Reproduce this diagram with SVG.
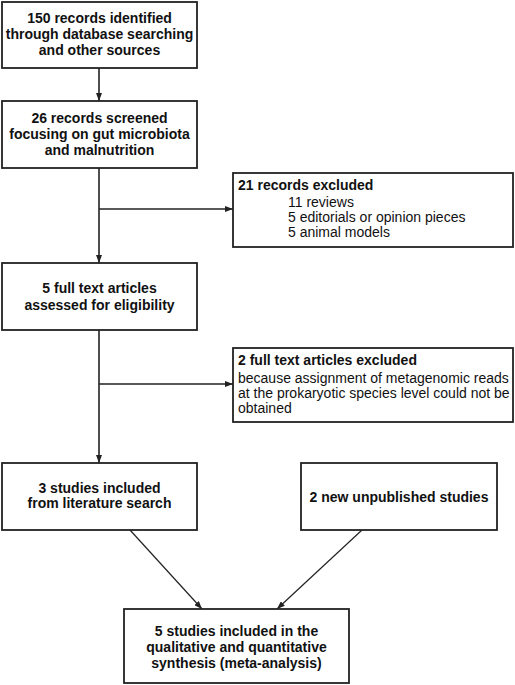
<svg xmlns="http://www.w3.org/2000/svg" width="515" height="685" viewBox="0 0 515 685">
<style>
.box{fill:#fff;stroke:#222;stroke-width:1.8}
.t{font-family:"Liberation Sans",Arial,sans-serif;font-size:14px;fill:#111}
.b{font-weight:bold}
.c{text-anchor:middle}
.ln{fill:none;stroke:#222;stroke-width:1.6}
.dg{fill:none;stroke:#222;stroke-width:1.2}
</style>
<defs>
<marker id="ah" viewBox="0 0 8 6" refX="8" refY="3" markerWidth="8" markerHeight="6" markerUnits="userSpaceOnUse" orient="auto">
<path d="M0,0 L8,3 L0,6 Z" fill="#222"/>
</marker>
</defs>
<rect width="515" height="685" fill="#fff"/>
<g id="connectors">
<line class="ln" x1="99" y1="68" x2="99" y2="101" marker-end="url(#ah)"/>
<line class="ln" x1="99" y1="168" x2="99" y2="263" marker-end="url(#ah)"/>
<line class="ln" x1="99" y1="209" x2="233" y2="209" marker-end="url(#ah)"/>
<line class="ln" x1="99" y1="330" x2="99" y2="463" marker-end="url(#ah)"/>
<line class="ln" x1="99" y1="384" x2="233" y2="384" marker-end="url(#ah)"/>
<line class="dg" x1="130" y1="530" x2="202" y2="609" marker-end="url(#ah)"/>
<line class="dg" x1="362" y1="530" x2="277" y2="609" marker-end="url(#ah)"/>
</g>
<g id="n1">
<rect class="box" x="2" y="2" width="195" height="66"/>
<text class="t b c" x="99.5" y="23">150 records identified</text>
<text class="t b c" x="99.5" y="39">through database searching</text>
<text class="t b c" x="99.5" y="55">and other sources</text>
</g>
<g id="n2">
<rect class="box" x="2" y="101" width="195" height="67"/>
<text class="t b c" x="99.5" y="123">26 records screened</text>
<text class="t b c" x="99.5" y="139">focusing on gut microbiota</text>
<text class="t b c" x="99.5" y="155">and malnutrition</text>
</g>
<g id="n3">
<rect class="box" x="233" y="173" width="280" height="74"/>
<text class="t b" x="238" y="190">21 records excluded</text>
<text class="t" x="288" y="207">11 reviews</text>
<text class="t" x="288" y="222">5 editorials or opinion pieces</text>
<text class="t" x="288" y="237">5 animal models</text>
</g>
<g id="n4">
<rect class="box" x="2" y="263" width="195" height="67"/>
<text class="t b c" x="99.5" y="293">5 full text articles</text>
<text class="t b c" x="99.5" y="310">assessed for eligibility</text>
</g>
<g id="n5">
<rect class="box" x="233" y="348" width="280" height="74"/>
<text class="t b" x="238" y="365">2 full text articles excluded</text>
<text class="t" x="238" y="383">because assignment of metagenomic reads</text>
<text class="t" x="238" y="398">at the prokaryotic species level could not be</text>
<text class="t" x="238" y="413">obtained</text>
</g>
<g id="n6">
<rect class="box" x="2" y="463" width="195" height="67"/>
<text class="t b c" x="99.5" y="493">3 studies included</text>
<text class="t b c" x="99.5" y="508">from literature search</text>
</g>
<g id="n7">
<rect class="box" x="301" y="463" width="196" height="67"/>
<text class="t b c" x="399" y="502">2 new unpublished studies</text>
</g>
<g id="n8">
<rect class="box" x="124" y="609" width="225" height="74"/>
<text class="t b c" x="236.5" y="636">5 studies included in the</text>
<text class="t b c" x="236.5" y="652">qualitative and quantitative</text>
<text class="t b c" x="236.5" y="668">synthesis (meta-analysis)</text>
</g>
</svg>
